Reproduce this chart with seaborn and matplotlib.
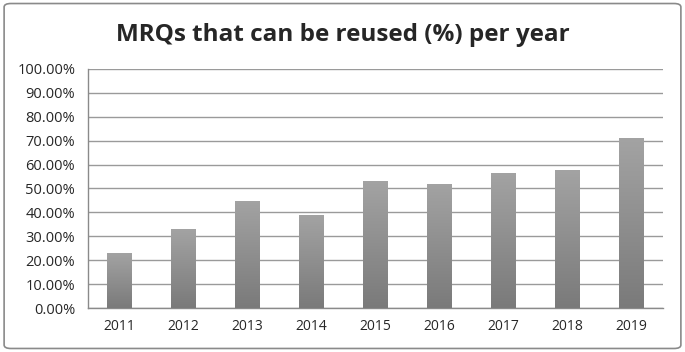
import numpy as np
import pandas as pd
import seaborn as sns
import matplotlib.pyplot as plt
from matplotlib.patches import FancyBboxPatch

years = ['2011', '2012', '2013', '2014', '2015', '2016', '2017', '2018', '2019']
reused_pct = [23.0, 33.0, 44.8, 38.9, 53.1, 51.9, 56.5, 57.7, 71.1]

df = pd.DataFrame({'year': years, 'pct': reused_pct})

sns.set_theme(style='white')
plt.rcParams['font.family'] = ['Open Sans', 'DejaVu Sans']

fig = plt.figure(figsize=(6.85, 3.52), dpi=100)
ax = fig.add_axes([0.128, 0.125, 0.840, 0.679])

sns.barplot(data=df, x='year', y='pct', color='#8c8c8c', width=0.39, ax=ax,
            saturation=1, edgecolor='none', zorder=2)

# vertical gradient on the bars (lighter top, darker bottom)
grad = np.linspace(0, 1, 256).reshape(-1, 1)
cmap = sns.blend_palette(['#7a7a7a', '#a3a3a3'], as_cmap=True)
for p in ax.patches:
    x0, y0 = p.get_x(), p.get_y()
    w, h = p.get_width(), p.get_height()
    im = ax.imshow(grad, extent=[x0, x0 + w, y0, y0 + h], origin='lower',
                   cmap=cmap, aspect='auto', zorder=3)
    im.set_clip_path(p)
    p.set_facecolor('none')

ax.set_xlim(-0.5, len(years) - 0.5)
ax.set_ylim(0, 100)
ax.set_yticks(range(0, 101, 10))
ax.set_yticklabels([f'{v:.2f}%' for v in range(0, 101, 10)], fontsize=10.5)
ax.yaxis.grid(True, color='#9a9a9a', linewidth=1.0)
ax.set_axisbelow(True)

ax.set_xticks(np.arange(len(years)))
ax.set_xticklabels(years, fontsize=10)
ax.set_xticks(np.arange(-0.5, len(years)), minor=True)
ax.tick_params(axis='x', which='major', length=0, pad=8)
ax.tick_params(axis='x', which='minor', length=5, color='#8a8a8a', width=1, direction='out')
ax.tick_params(axis='y', length=5, color='#8a8a8a', width=1, direction='out', pad=4)

for side in ['top', 'right']:
    ax.spines[side].set_visible(False)
for side in ['left', 'bottom']:
    ax.spines[side].set_color('#8a8a8a')
    ax.spines[side].set_linewidth(1.0)

ax.set_xlabel('')
ax.set_ylabel('')

fig.text(0.5, 0.90, 'MRQs that can be reused (%) per year', ha='center', va='center',
         fontsize=17.5, fontweight='bold')

frame = FancyBboxPatch((0.006, 0.01), 0.988, 0.98, boxstyle='round,pad=0,rounding_size=0.01',
                       transform=fig.transFigure, fill=False, edgecolor='#8a8a8a', linewidth=1.2)
fig.patches.append(frame)

fig.savefig('out.png', dpi=100)
